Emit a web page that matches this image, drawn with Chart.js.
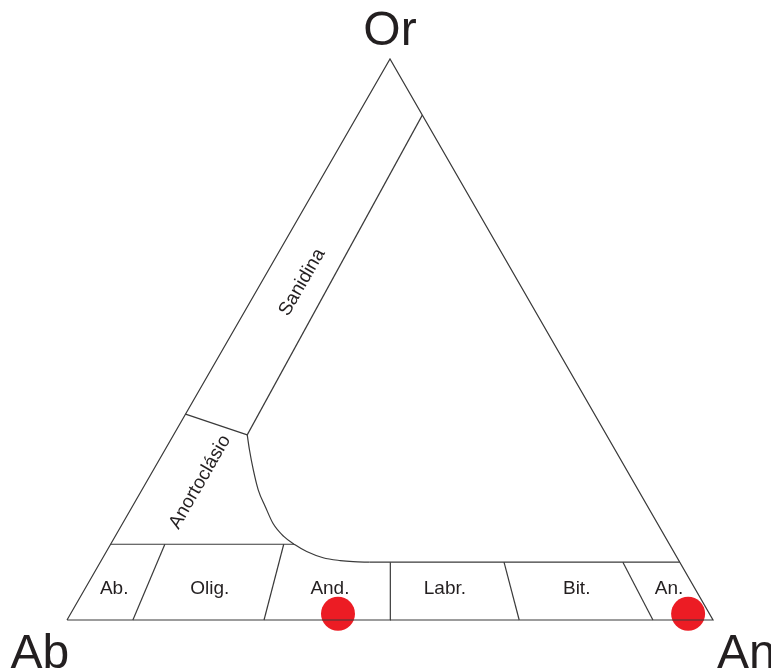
<!DOCTYPE html>
<html>
<head>
<meta charset="utf-8">
<style>
  html, body { margin: 0; padding: 0; background: #fff; }
  #wrap { width: 771px; height: 671px; }
</style>
<script src="https://cdn.jsdelivr.net/npm/chart.js@4.4.0/dist/chart.umd.min.js"></script>
</head>
<body>
<div id="wrap"><canvas id="ternary" width="771" height="671"></canvas></div>
<script>
// compositions as [An %, Or %] (Ab is the rest)
const outline = [[0, 0], [100, 0], [0, 100], [0, 0]];
const sanidinaLine = [[10, 90], [11.4, 33.0]];
const anortoclasioLine = [[0, 36.7], [11.4, 33.0]];
const solvusCurve = [[11.4, 33.0], [13.1, 30.3], [15.5, 26.7], [18.0, 23.2], [20.6, 20.2],
                     [23.3, 17.2], [26.1, 14.9], [28.6, 13.4], [31.0, 12.2], [34.1, 11.1],
                     [37.0, 10.6], [39.1, 10.4], [41.7, 10.3]];
const plagTopLeft = [[0, 13.5], [28.4, 13.5]];
const plagTopRight = [[41.7, 10.3], [89.7, 10.3]];
const plagDividers = [
    [[10.2, 0], [8.4, 13.5]],
    [[30.5, 0], [26.8, 13.5]],
    [[50, 0], [44.9, 10.3]],
    [[70, 0], [62.5, 10.3]],
    [[90.7, 0], [80.9, 10.3]]
];
const samples = [[41.4, 1.1], [95.6, 1.1]];

const vertexNames = ['Or', 'Ab', 'An'];
const plagNames = ['Ab.', 'Olig.', 'And.', 'Labr.', 'Bit.', 'An.'];
const fieldNames = ['Sanidina', 'Anortoclásio'];

// ternary -> cartesian (x along Ab-An base, y = Or)
function toXY(pts) {
    return pts.map(p => ({ x: p[0] + p[1] / 2, y: p[1] }));
}

function lineSet(pts, extra) {
    return Object.assign({
        data: toXY(pts),
        showLine: true,
        borderColor: '#3a3a3a',
        borderWidth: 1.2,
        pointRadius: 0,
        fill: false,
        clip: false
    }, extra || {});
}

let datasets = [];
datasets.push(lineSet(outline));
datasets.push(lineSet(sanidinaLine));
datasets.push(lineSet(anortoclasioLine));
datasets.push(lineSet(solvusCurve, { cubicInterpolationMode: 'monotone' }));
datasets.push(lineSet(plagTopLeft));
datasets.push(lineSet(plagTopRight));
plagDividers.forEach(d => datasets.push(lineSet(d)));
datasets.push({
    data: toXY(samples),
    showLine: false,
    pointRadius: 17,
    pointHoverRadius: 17,
    pointBackgroundColor: '#ec1c24',
    pointBorderColor: '#ec1c24',
    pointBorderWidth: 0,
    clip: false
});

const textPlugin = {
    id: 'ternaryText',
    afterDatasetsDraw(chart) {
        const ctx = chart.ctx;
        const sx = chart.scales.x, sy = chart.scales.y;
        const px = v => sx.getPixelForValue(v);
        const py = v => sy.getPixelForValue(v);
        ctx.save();
        ctx.fillStyle = '#231f20';
        ctx.textBaseline = 'alphabetic';

        // vertex labels
        ctx.font = '48px "Liberation Sans", Arial, sans-serif';
        ctx.textAlign = 'center';
        ctx.fillText(vertexNames[0], px(50), py(102.5));
        ctx.fillText(vertexNames[1], px(-4.2), py(-8.6));
        ctx.textAlign = 'left';
        ctx.fillText(vertexNames[2], px(100.6), py(-8.6));

        // plagioclase fields
        ctx.font = '19px "Liberation Sans", Arial, sans-serif';
        ctx.textAlign = 'center';
        const plagX = [7.3, 22.1, 40.7, 58.5, 78.9, 93.2];
        plagNames.forEach((n, i) => ctx.fillText(n, px(plagX[i]), py(4.6)));

        // rotated alkali-feldspar fields
        ctx.textBaseline = 'middle';
        const fieldPos = [[36.4, 60.2], [20.6, 24.6]];
        fieldNames.forEach((n, i) => {
            ctx.save();
            ctx.translate(px(fieldPos[i][0]), py(fieldPos[i][1]));
            ctx.rotate(-Math.PI / 3);
            ctx.fillText(n, 0, 0);
            ctx.restore();
        });
        ctx.restore();
    }
};

new Chart(document.getElementById('ternary').getContext('2d'), {
    type: 'scatter',
    data: { datasets: datasets },
    options: {
        responsive: false,
        animation: false,
        layout: { padding: { left: 67, right: 58, top: 59, bottom: 51 } },
        plugins: { legend: { display: false }, tooltip: { enabled: false } },
        scales: {
            x: { type: 'linear', min: 0, max: 100, display: false },
            y: { type: 'linear', min: 0, max: 100, display: false }
        }
    },
    plugins: [textPlugin]
});
</script>
</body>
</html>
